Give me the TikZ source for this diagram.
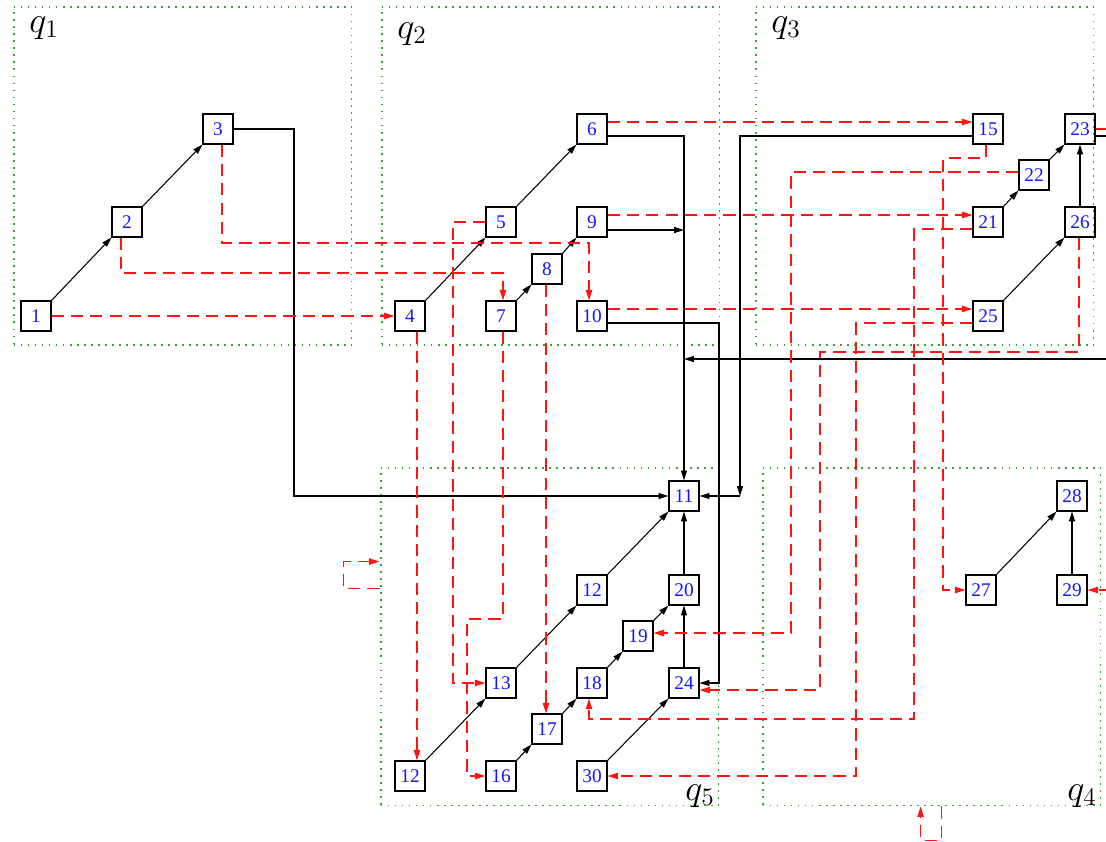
\documentclass[tikz,border=0pt]{standalone}
\usepackage{fontspec}
\usepackage{tikz}
\usetikzlibrary{arrows.meta, calc}
\newfontfamily\numfont{Liberation Serif}
\definecolor{grpgreen}{RGB}{50,165,50}
\definecolor{numblue}{RGB}{20,20,255}
\definecolor{linkred}{RGB}{255,20,20}

\begin{document}
\begin{tikzpicture}[x=0.02cm, y=-0.02cm,
    box/.style={draw, line width=0.6pt, minimum size=0.6cm, inner sep=0pt, text=numblue, font=\numfont\fontsize{11}{12}\selectfont},
    grp/.style={draw=grpgreen, line width=1.1pt, dash pattern=on 1pt off 3pt, minimum size=6.76cm, inner sep=0pt},
    qlab/.style={inner sep=0pt, font=\fontsize{22}{24}\selectfont},
    blk/.style={line width=0.6pt, -{Triangle[length=5.6pt,width=3.4pt]}},
    rdash/.style={linkred, line width=0.75pt, dash pattern=on 7pt off 4pt, -{Triangle[length=6pt,width=3.6pt]}}]
    \useasboundingbox (0,0) rectangle (1106,842);
    \clip (0,0) rectangle (1106,842);
    \node[grp] (q1) at (182.5,176) {};
    \node[grp] (q2) at (550.5,176) {};
    \node[grp] (q3) at (924.5,176) {};
    \node[grp] (q5) at (549.5,636.5) {};
    \node[grp] (q4) at (931.5,636.5) {};
    \node[qlab] (l1) at (44,28) {$q_1$};
    \node[qlab] (l2) at (412,34) {$q_2$};
    \node[qlab] (l3) at (786,28) {$q_3$};
    \node[qlab] (l5) at (700,796) {$q_5$};
    \node[qlab] (l4) at (1082,796) {$q_4$};
    \node[box] (n1) at (36,316) {1};
    \node[box] (n2) at (127,222) {2};
    \node[box] (n3) at (218,129) {3};
    \node[box] (n4) at (410,316) {4};
    \node[box] (n5) at (501,222) {5};
    \node[box] (n6) at (592,129) {6};
    \node[box] (n7) at (501,316) {7};
    \node[box] (n8) at (547,269) {8};
    \node[box] (n9) at (592,222) {9};
    \node[box] (n10) at (592,316) {10};
    \node[box] (n11) at (684,496) {11};
    \node[box] (up12) at (592,590) {12};
    \node[box] (n20) at (684,590) {20};
    \node[box] (n19) at (638,636) {19};
    \node[box] (n13) at (501,683) {13};
    \node[box] (n18) at (592,683) {18};
    \node[box] (n24) at (684,683) {24};
    \node[box] (n17) at (547,729) {17};
    \node[box] (lo12) at (410,776) {12};
    \node[box] (n16) at (501,776) {16};
    \node[box] (n30) at (592,776) {30};
    \node[box] (n15) at (988,129) {15};
    \node[box] (n23) at (1080,129) {23};
    \node[box] (n22) at (1034,175) {22};
    \node[box] (n21) at (988,222) {21};
    \node[box] (n26) at (1080,222) {26};
    \node[box] (n25) at (988,316) {25};
    \node[box] (n27) at (981,590) {27};
    \node[box] (n28) at (1072,496) {28};
    \node[box] (n29) at (1072,590) {29};
    \coordinate (j9) at (684,230);
    \coordinate (j23) at (684,359);
    \coordinate (c15) at (740,496);
    \draw[blk] (n1.north east) -- (n2.south west);
    \draw[blk] (n2.north east) -- (n3.south west);
    \draw[blk] (n4.north east) -- (n5.south west);
    \draw[blk] (n5.north east) -- (n6.south west);
    \draw[blk] (n7.north east) -- (n8.south west);
    \draw[blk] (n8.north east) -- (n9.south west);
    \draw[blk] (lo12.north east) -- (n13.south west);
    \draw[blk] (n13.north east) -- (up12.south west);
    \draw[blk] (up12.north east) -- (n11.south west);
    \draw[blk] (n16.north east) -- (n17.south west);
    \draw[blk] (n17.north east) -- (n18.south west);
    \draw[blk] (n18.north east) -- (n19.south west);
    \draw[blk] (n19.north east) -- (n20.south west);
    \draw[blk] (n30.north east) -- (n24.south west);
    \draw[blk] (n24) -- (n20);
    \draw[blk] (n20) -- (n11);
    \draw[blk] (n21.north east) -- (n22.south west);
    \draw[blk] (n22.north east) -- (n23.south west);
    \draw[blk] (n25.north east) -- (n26.south west);
    \draw[blk] (n26) -- (n23);
    \draw[blk] (n27.north east) -- (n28.south west);
    \draw[blk] (n29) -- (n28);
    \draw[blk] (n3.east) -- (294,129) |- (n11.west);
    \draw[blk] ($(n6.east)+(0,7)$) -| (n11.north);
    \draw[blk] ($(n9.east)+(0,8)$) -- (j9);
    \draw[blk] ($(n10.east)+(0,7)$) -- (719,323) |- (n24.east);
    \draw[blk] ($(n15.west)+(0,7)$) -| (c15);
    \draw[blk] (c15) -- (n11.east);
    \draw[blk] ($(n23.east)+(0,7)$) -- (1118,136) -- (1118,359) -- (j23);
    \draw[rdash] (n1.east) -- (n4.west);
    \draw[rdash] ($(n2.south)+(-6,0)$) -- (121,273) -| ($(n7.north)+(2,0)$);
    \draw[rdash] ($(n3.south)+(4,0)$) -- (222,243) -| ($(n10.north)+(-3,0)$);
    \draw[rdash] ($(n4.south)+(7,0)$) -- ($(lo12.north)+(7,0)$);
    \draw[rdash] (n5.west) -- (453,222) |- (n13.west);
    \draw[rdash] ($(n7.south)+(2,0)$) |- (467,619) |- (n16.west);
    \draw[rdash] ($(n8.south)+(-1,0)$) -- ($(n17.north)+(-1,0)$);
    \draw[rdash] ($(n6.east)+(0,-7)$) -- ($(n15.west)+(0,-7)$);
    \draw[rdash] ($(n9.east)+(0,-7)$) -- ($(n21.west)+(0,-7)$);
    \draw[rdash] ($(n10.east)+(0,-7)$) -- ($(n25.west)+(0,-7)$);
    \draw[rdash] ($(n15.south)+(-2,0)$) |- (943,158) |- (n27.west);
    \draw[rdash] ($(n22.west)+(0,-3)$) -- (791,172) |- ($(n19.east)+(0,-3)$);
    \draw[rdash] ($(n21.west)+(0,7)$) -- (914,229) |- (589,719) -- ($(n18.south)+(-3,0)$);
    \draw[rdash] ($(n25.west)+(0,7)$) -- (856,323) |- (n30.east);
    \draw[rdash] ($(n26.south)+(-1,0)$) |- (820,352) |- ($(n24.east)+(0,7)$);
    \draw[rdash] (n23.east) -- (1124,129) -- (1124,590) -- (n29.east);
    \draw[rdash] ($(q5.north west)+(0,122)$) -- ++(-36,0) -- ++(0,-27) -- ($(q5.north west)+(0,95)$);
    \draw[rdash] ($(q4.south west)+(180,0)$) -- ++(0,34) -- ++(-21,0) -- ($(q4.south west)+(159,0)$);
\end{tikzpicture}
\end{document}
